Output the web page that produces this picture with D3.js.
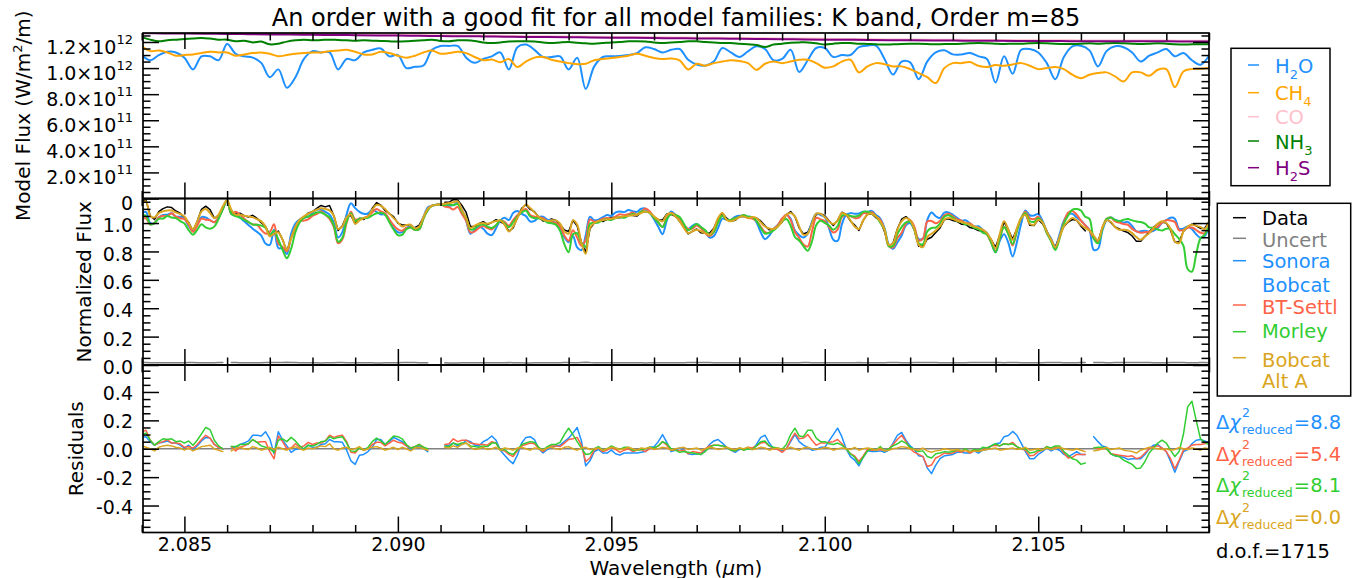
<!DOCTYPE html>
<html>
<head>
<meta charset="utf-8">
<script src="https://cdn.jsdelivr.net/npm/d3@7"></script>
<style>
  html, body { margin: 0; padding: 0; background: #fff; }
  svg { display: block; }
</style>
</head>
<body>
<svg id="chart" width="1367" height="578"></svg>
<script>
// ---------- wavelength sampling (micron) ----------
const fineStart = 2.0840, fineStep = 0.0001, fineCount = 251;     // observed spectrum grid
const modelStart = 2.0840, modelStep = 0.0002, modelCount = 126;  // molecule-only model grid
const smoothStart = 2.0840, smoothStep = 0.0005, smoothCount = 51; // slowly varying models

// ---------- molecule-only models (flux, units of 1e12 W/m^2/m) ----------
const h2oFlux = [
 1.10,1.06,1.10,1.125,1.12,1.08,0.99,1.09,1.09,1.06,
 1.185,1.11,1.09,1.08,1.04,0.93,0.99,0.85,0.93,1.07,
 1.13,1.12,1.12,0.99,1.07,1.06,1.12,1.14,1.15,1.09,
 1.10,1.00,1.01,1.02,1.14,1.17,1.17,1.17,1.08,1.04,
 1.07,1.09,1.12,0.99,1.16,1.18,1.14,1.085,1.085,1.09,
 0.99,1.08,0.84,1.013,1.085,1.09,1.092,1.10,1.115,1.16,
 1.146,1.12,1.14,1.146,1.064,1.028,1.018,1.05,1.154,1.12,
 1.085,1.128,1.167,1.146,1.06,1.07,1.14,0.97,1.06,1.154,
 1.154,1.085,1.10,1.10,1.16,1.172,1.172,1.07,0.95,1.05,
 1.044,0.915,1.05,1.12,1.136,1.105,1.105,1.115,1.09,1.07,
 0.89,1.09,0.956,1.14,1.146,1.12,1.038,0.915,1.085,1.167,
 1.172,1.136,1.013,1.13,1.167,1.16,1.12,1.05,1.095,1.12,
 1.146,1.09,1.115,1.06,1.026,1.095];
const ch4Flux = [
 1.17,1.13,1.135,1.12,1.095,1.10,1.105,1.115,1.125,1.12,
 1.12,1.095,1.105,1.115,1.12,1.11,1.09,1.10,1.11,1.115,
 1.12,1.12,1.13,1.135,1.14,1.125,1.105,1.105,1.125,1.115,
 1.095,1.08,1.095,1.12,1.135,1.11,1.115,1.125,1.115,1.085,
 1.06,1.065,1.045,1.07,1.008,1.05,1.08,1.085,1.064,1.05,
 1.038,1.03,1.033,1.06,1.07,1.077,1.085,1.095,1.11,1.095,
 1.077,1.07,1.074,1.06,0.99,1.033,1.018,1.038,1.05,1.06,
 1.054,1.038,0.987,1.033,1.05,1.038,1.05,1.064,1.064,1.038,
 1.003,1.013,1.05,1.064,0.967,1.013,1.038,1.03,1.013,1.013,
 0.992,0.962,0.93,0.885,1.0,1.038,1.038,1.046,1.018,1.008,
 1.023,1.018,1.028,1.038,1.018,0.992,1.0,1.008,0.992,0.949,
 0.923,0.949,0.962,0.967,0.936,0.897,0.967,0.967,0.941,0.987,
 0.992,0.854,0.974,0.992,0.995,1.0];
const nh3Flux = [
 1.238,1.218,1.205,1.213,1.218,1.223,1.226,1.231,1.226,1.218,
 1.218,1.205,1.21,1.197,1.203,1.182,1.187,1.203,1.213,1.218,
 1.213,1.215,1.218,1.215,1.213,1.21,1.213,1.21,1.208,1.205,
 1.203,1.205,1.21,1.213,1.218,1.208,1.205,1.213,1.213,1.208,
 1.197,1.192,1.197,1.203,1.205,1.205,1.203,1.197,1.192,1.197,
 1.2,1.195,1.19,1.187,1.192,1.197,1.2,1.205,1.205,1.203,
 1.197,1.192,1.197,1.2,1.205,1.205,1.2,1.197,1.192,1.192,
 1.187,1.182,1.177,1.162,1.18,1.187,1.195,1.197,1.197,1.19,
 1.18,1.187,1.192,1.192,1.187,1.185,1.182,1.18,1.182,1.185,
 1.187,1.187,1.185,1.182,1.185,1.185,1.187,1.19,1.192,1.19,
 1.187,1.185,1.187,1.187,1.19,1.192,1.19,1.187,1.185,1.185,
 1.187,1.19,1.187,1.19,1.192,1.19,1.187,1.185,1.187,1.19,
 1.187,1.182,1.18,1.182,1.182,1.182];
const h2sFlux = [
 1.268,1.266,1.265,1.263,1.262,1.260,1.258,1.257,1.255,1.254,
 1.252,1.250,1.249,1.247,1.246,1.244,1.243,1.241,1.239,1.238,
 1.236,1.235,1.233,1.232,1.230,1.229,1.227,1.226,1.224,1.223,
 1.221,1.220,1.218,1.217,1.216,1.214,1.213,1.212,1.211,1.210,
 1.209,1.208,1.207,1.207,1.206,1.206,1.205,1.205,1.205,1.204,
 1.204];
const coFlux = [
 1.274,1.272,1.271,1.269,1.268,1.266,1.264,1.263,1.261,1.260,
 1.258,1.256,1.255,1.253,1.252,1.250,1.249,1.247,1.245,1.244,
 1.242,1.241,1.239,1.238,1.236,1.235,1.233,1.232,1.230,1.229,
 1.227,1.226,1.224,1.223,1.222,1.220,1.219,1.218,1.217,1.216,
 1.215,1.214,1.213,1.213,1.212,1.212,1.211,1.211,1.211,1.210,
 1.210];

// ---------- observed spectrum and model families (normalized) ----------
const dataFlux = [
 1.150,1.163,1.050,1.025,1.080,1.102,1.114,1.109,1.085,1.069,
 1.037,1.005,0.943,1.012,1.097,1.119,1.095,1.035,1.049,1.098,
 null,1.079,1.064,1.069,1.052,1.042,1.055,1.033,1.002,0.976,
 0.916,0.920,0.944,0.882,0.802,0.899,0.991,1.024,1.037,1.071,
 1.080,1.104,1.124,1.114,1.124,1.052,0.948,0.981,1.052,1.054,
 0.995,1.034,1.025,1.047,1.104,1.144,1.127,1.089,1.066,1.045,
 1.000,0.986,0.986,0.973,0.967,0.986,1.042,1.089,null,null,
 null,1.146,1.146,1.166,1.163,1.124,1.075,0.975,0.976,0.995,
 1.010,0.990,1.005,1.024,1.009,0.993,0.941,0.966,1.040,1.104,
 1.129,1.096,1.080,1.042,1.014,1.019,1.029,1.019,0.990,0.951,
 0.940,1.019,0.978,0.864,0.794,0.960,1.000,1.019,1.011,1.026,
 1.041,1.040,1.037,1.047,1.062,1.054,1.049,1.076,1.082,1.081,
 1.042,1.024,1.022,1.064,1.061,1.047,1.017,0.975,0.924,0.941,
 0.958,0.931,0.929,0.928,0.963,1.030,1.071,1.034,1.012,1.019,
 1.047,1.047,1.045,1.037,1.035,1.015,0.981,0.952,0.958,0.981,
 1.007,1.059,1.081,1.047,0.966,0.923,0.935,1.000,1.061,1.066,
 1.052,1.017,0.983,1.019,1.076,1.059,1.015,0.986,0.948,1.019,
 1.064,1.066,1.037,1.017,0.938,0.837,0.859,0.958,1.027,1.045,
 1.019,0.948,0.837,0.836,0.886,0.900,0.933,0.966,1.024,1.030,
 1.018,1.011,0.992,0.990,0.968,0.961,0.947,0.943,0.924,0.882,
 0.829,0.915,1.007,0.953,0.887,0.960,1.035,1.069,0.985,0.983,
 1.024,0.995,0.946,0.877,0.831,0.911,0.976,1.007,1.025,1.019,
 0.978,0.945,null,0.896,0.868,0.965,1.029,1.004,0.972,0.958,
 0.943,0.933,0.909,0.871,0.872,0.906,0.939,0.970,0.995,1.007,
 1.000,0.948,0.866,0.869,0.941,0.971,0.993,0.981,0.962,0.963,
 1.012];
const uncertFlux = [
 .018,.017,.016,.016,.015,.016,.016,.015,.015,.016,
 .016,.017,.017,.016,.015,.015,.016,.016,.017,.018,
 null,.018,.017,.016,.016,.015,.015,.016,.016,.017,
 .018,.018,.017,.018,.019,.018,.017,.016,.016,.015,
 .015,.015,.014,.015,.015,.016,.017,.017,.016,.016,
 .016,.015,.015,.015,.015,.014,.014,.015,.015,.016,
 .016,.017,.017,.017,.017,.016,.015,.015,null,null,
 null,.015,.014,.014,.014,.015,.015,.016,.016,.016,
 .016,.016,.016,.016,.016,.016,.017,.016,.015,.015,
 .014,.014,.015,.015,.015,.016,.016,.016,.016,.017,
 .017,.016,.016,.018,.019,.017,.016,.016,.016,.015,
 .015,.015,.015,.015,.015,.015,.015,.015,.014,.015,
 .015,.016,.016,.015,.015,.015,.016,.016,.017,.017,
 .017,.017,.017,.017,.016,.015,.015,.015,.016,.015,
 .015,.015,.015,.015,.015,.016,.016,.016,.016,.016,
 .016,.015,.015,.015,.016,.017,.017,.016,.015,.015,
 .015,.016,.016,.016,.015,.015,.016,.016,.017,.016,
 .015,.015,.015,.016,.016,.018,.018,.017,.016,.016,
 .016,.017,.018,.018,.017,.017,.017,.016,.016,.016,
 .016,.016,.016,.016,.017,.017,.017,.017,.017,.018,
 .018,.017,.016,.017,.018,.017,.016,.016,.016,.016,
 .016,.016,.017,.017,.018,.017,.016,.016,.016,.016,
 .017,.017,null,.018,.018,.017,.016,.016,.017,.017,
 .017,.017,.017,.018,.018,.017,.017,.016,.016,.016,
 .016,.017,.018,.018,.017,.016,.016,.016,.017,.017,
 .016];
const sonoraFlux = [
 1.07,1.078,1.0,1.0,1.04,1.057,1.059,1.069,1.045,1.044,
 1.032,0.98,0.948,0.992,1.042,1.039,1.02,1.005,1.039,1.098,
 1.16,1.064,1.059,1.039,1.012,0.987,0.96,0.938,0.912,0.856,
 0.846,0.955,0.824,0.822,0.782,0.924,0.996,1.024,1.037,1.046,
 1.07,1.094,1.094,1.079,1.059,1.002,0.898,0.936,1.062,1.139,
 1.105,1.079,1.065,1.067,1.094,1.079,1.062,1.059,1.016,0.965,
 0.935,0.936,0.966,0.978,0.962,0.966,1.042,1.109,1.122,1.129,
 1.132,1.126,1.121,1.126,1.143,1.094,1.015,0.925,0.951,0.975,
 0.96,0.925,0.915,0.964,1.019,1.038,1.021,1.071,1.085,1.064,
 1.049,1.011,1.015,1.042,1.044,1.024,1.019,0.999,0.965,0.901,
 0.865,0.909,0.828,0.809,0.914,1.045,1.02,1.024,1.041,1.056,
 1.051,1.075,1.082,1.077,1.092,1.084,1.079,1.101,1.102,1.071,
 1.027,0.974,0.922,1.019,1.081,1.057,1.012,0.985,0.959,0.981,
 0.993,0.971,0.939,0.898,0.908,0.965,1.031,1.024,1.022,1.044,
 1.052,1.047,1.045,1.042,1.005,0.935,0.886,0.912,0.958,0.986,
 1.022,1.059,1.031,0.947,0.916,0.898,0.925,1.01,1.066,1.056,
 1.042,0.962,0.883,0.874,0.991,1.059,1.07,1.066,1.068,1.079,
 1.079,1.086,1.057,1.032,0.963,0.847,0.819,0.863,0.912,0.985,
 0.999,0.953,0.887,0.891,1.021,1.075,1.048,1.036,1.074,1.075,
 1.058,1.036,1.017,1.02,0.998,0.976,0.977,0.953,0.929,0.862,
 0.794,0.875,0.922,0.86,0.765,0.865,0.995,1.089,1.055,1.053,
 1.064,1.015,0.941,0.892,0.831,0.921,1.016,1.062,1.065,1.039,
 1.018,0.985,0.95,0.811,0.818,0.945,1.019,1.039,1.022,1.013,
 1.003,1.008,0.979,0.941,0.942,0.946,0.939,0.945,0.965,1.002,
 1.02,1.038,1.031,0.959,0.961,0.976,0.958,0.921,0.897,0.908,
 0.972];
const settlFlux = [
 1.03,1.033,0.99,1.0,1.04,1.052,1.049,1.069,1.045,1.034,
 1.027,0.99,0.938,0.982,1.032,1.024,1.02,1.005,1.039,1.098,
 1.16,1.064,1.079,1.059,1.032,1.007,0.99,0.988,0.952,0.926,
 0.936,0.991,0.854,0.832,0.802,0.894,0.956,1.014,1.017,1.026,
 1.05,1.064,1.084,1.059,1.029,0.972,0.858,0.886,1.002,1.079,
 1.025,1.029,1.035,1.047,1.074,1.099,1.082,1.069,1.026,0.985,
 0.955,0.946,0.966,0.968,0.952,0.956,1.032,1.099,1.122,1.129,
 1.132,1.116,1.111,1.096,1.113,1.064,1.015,0.935,0.941,0.965,
 0.98,0.965,0.955,0.984,1.019,1.008,0.981,1.021,1.055,1.084,
 1.099,1.056,1.045,1.042,1.034,1.014,1.009,0.999,0.975,0.911,
 0.875,0.949,0.898,0.839,0.884,1.025,1.01,1.014,1.031,1.036,
 1.031,1.045,1.062,1.057,1.062,1.074,1.059,1.081,1.102,1.081,
 1.037,1.004,0.972,1.039,1.071,1.057,1.032,0.985,0.959,0.961,
 0.983,0.961,0.929,0.908,0.938,1.005,1.051,1.024,1.022,1.034,
 1.042,1.057,1.035,1.032,1.015,0.975,0.936,0.932,0.958,0.986,
 1.032,1.059,1.021,0.937,0.896,0.848,0.835,0.94,1.036,1.026,
 1.012,0.972,0.933,0.954,1.041,1.059,1.05,1.036,1.038,1.069,
 1.069,1.076,1.047,1.022,0.953,0.837,0.829,0.893,0.932,0.995,
 1.019,0.973,0.877,0.891,1.011,1.015,0.998,1.016,1.054,1.065,
 1.048,1.026,1.017,1.0,0.998,0.976,0.957,0.953,0.919,0.862,
 0.804,0.895,0.972,0.923,0.842,0.945,1.035,1.079,1.035,1.028,
 1.044,1.005,0.931,0.882,0.821,0.901,1.006,1.072,1.085,1.059,
 1.018,0.985,0.95,0.891,0.868,0.965,1.029,1.039,1.012,1.003,
 0.993,0.988,0.959,0.941,0.932,0.936,0.939,0.955,0.975,1.002,
 1.02,1.018,1.008,0.949,0.951,0.966,0.968,0.951,0.932,0.928,
 0.972];
const morleyFlux = [
 1.05,1.053,0.99,1.0,1.03,1.032,1.049,1.039,1.035,1.014,
 0.997,0.95,0.918,0.952,0.992,0.969,0.96,0.975,1.029,1.098,
 1.16,1.064,1.049,1.039,1.022,1.007,0.99,0.988,0.982,0.966,
 0.916,0.945,0.884,0.812,0.752,0.819,0.936,1.004,1.037,1.046,
 1.06,1.074,1.074,1.059,1.039,0.982,0.868,0.896,1.012,1.069,
 1.015,1.029,1.035,1.037,1.054,1.069,1.072,1.059,1.006,0.955,
 0.915,0.916,0.956,0.968,0.952,0.956,1.032,1.089,1.122,1.129,
 1.132,1.126,1.131,1.126,1.133,1.084,1.035,0.955,0.961,0.985,
 0.99,0.975,0.965,0.984,1.019,0.998,0.971,1.006,1.045,1.074,
 1.089,1.046,1.035,1.032,1.024,1.004,0.999,0.989,0.945,0.851,
 0.795,0.919,0.928,0.859,0.834,0.995,1.0,1.004,1.021,1.026,
 1.021,1.035,1.042,1.037,1.052,1.064,1.059,1.081,1.082,1.071,
 1.037,1.004,0.972,1.029,1.061,1.057,1.042,0.995,0.949,0.971,
 0.993,0.971,0.949,0.918,0.938,1.005,1.051,1.024,1.022,1.034,
 1.042,1.057,1.045,1.042,1.015,0.965,0.926,0.932,0.948,0.976,
 1.012,1.029,0.981,0.902,0.876,0.838,0.805,0.87,0.986,1.016,
 1.002,0.982,0.953,0.979,1.051,1.059,1.05,1.046,1.053,1.079,
 1.079,1.066,1.047,1.002,0.953,0.837,0.839,0.923,0.972,1.005,
 1.009,0.953,0.857,0.851,0.941,0.965,0.968,0.996,1.044,1.055,
 1.038,1.016,1.007,0.99,0.988,0.966,0.957,0.933,0.919,0.862,
 0.794,0.895,0.972,0.923,0.852,0.945,1.035,1.069,1.015,1.008,
 1.034,1.005,0.931,0.872,0.811,0.891,0.996,1.052,1.095,1.099,
 1.088,1.045,1.03,0.891,0.858,0.955,1.029,1.039,1.022,1.013,
 1.023,1.028,1.019,1.011,1.007,0.996,0.969,0.965,0.955,0.947,
 0.96,0.958,0.921,0.889,0.841,0.676,0.658,0.781,0.892,0.918,
 0.982];
const altAFlux = [
 1.13,1.153,1.05,1.04,1.07,1.082,1.089,1.089,1.075,1.064,
 1.047,1.0,0.958,1.012,1.082,1.099,1.07,1.035,1.059,1.118,
 1.16,1.094,1.059,1.059,1.052,1.047,1.04,1.028,1.012,0.976,
 0.906,0.925,0.934,0.882,0.812,0.894,0.976,1.024,1.047,1.066,
 1.08,1.094,1.104,1.099,1.089,1.052,0.958,0.976,1.042,1.059,
 0.995,1.019,1.035,1.047,1.094,1.129,1.122,1.099,1.066,1.035,
 1.005,0.976,0.986,0.988,0.962,0.976,1.042,1.099,1.122,1.129,
 1.132,1.136,1.141,1.146,1.153,1.094,1.035,0.965,0.981,0.995,
 1.0,0.995,1.005,1.014,1.019,0.988,0.941,0.976,1.035,1.094,
 1.129,1.106,1.075,1.042,1.024,1.014,1.019,1.019,0.995,0.941,
 0.925,1.019,0.988,0.859,0.784,0.965,1.0,1.014,1.021,1.026,
 1.031,1.035,1.042,1.047,1.052,1.054,1.059,1.071,1.082,1.071,
 1.047,1.024,1.012,1.059,1.071,1.047,1.012,0.965,0.929,0.941,
 0.953,0.941,0.929,0.918,0.958,1.035,1.071,1.024,1.012,1.024,
 1.042,1.047,1.035,1.042,1.035,1.005,0.976,0.962,0.958,0.976,
 1.012,1.059,1.071,1.047,0.976,0.918,0.925,1.0,1.066,1.066,
 1.042,1.012,0.993,1.019,1.071,1.059,1.02,0.976,0.958,1.019,
 1.059,1.066,1.047,1.012,0.953,0.847,0.859,0.953,1.012,1.035,
 1.019,0.953,0.847,0.831,0.901,0.925,0.948,0.976,1.024,1.035,
 1.028,1.016,1.007,1.0,0.988,0.976,0.967,0.953,0.929,0.882,
 0.824,0.925,1.012,0.953,0.882,0.965,1.035,1.059,0.995,0.988,
 1.024,1.005,0.941,0.882,0.831,0.901,0.976,1.012,1.035,1.019,
 0.988,0.965,0.948,0.911,0.878,0.965,1.019,1.009,0.972,0.953,
 0.953,0.948,0.929,0.901,0.882,0.906,0.929,0.965,0.995,1.012,
 1.0,0.958,0.871,0.859,0.941,0.976,0.988,0.981,0.972,0.958,
 1.012];

// ---------- fit statistics ----------
const chiLabels = ["8.8", "5.4", "8.1", "0.0"];
const dofLabel = "1715";

// ---------- axis ticks ----------
const xMajor = [2.085, 2.090, 2.095, 2.100, 2.105];
const topMajor = [0, 0.2, 0.4, 0.6, 0.8, 1.0, 1.2];       // x 1e12
const midMajor = [0, 0.2, 0.4, 0.6, 0.8, 1.0];
const resMajor = [-0.4, -0.2, 0, 0.2, 0.4];

// ---------- colours ----------
const C = {
  h2o: "#1e90ff", ch4: "#ffa500", co: "#ffc0cb", nh3: "#008000", h2s: "#800080",
  data: "#000000", uncert: "#808080", sonora: "#1e90ff", settl: "#ff6347",
  morley: "#32cd32", altA: "#daa520"
};

// ---------- layout ----------
const FONT = "'DejaVu Sans', 'Liberation Sans', sans-serif";
const X0 = 143, X1 = 1209;
const P = {
  top: { y0: 33,    y1: 198.5 },
  mid: { y0: 198.5, y1: 365 },
  res: { y0: 365,   y1: 532.5 }
};

const svg = d3.select("#chart");

const x = d3.scaleLinear().domain([2.08403, 2.10900]).range([X0, X1]);
const yTop = d3.scaleLinear().domain([0, 1.269]).range([P.top.y1, P.top.y0]);
const yMid = d3.scaleLinear().domain([0, 1.173]).range([P.mid.y1, P.mid.y0]);
const yRes = d3.scaleLinear().domain([-0.59, 0.59]).range([P.res.y1, P.res.y0]);

const wlFine = d3.range(fineCount).map(i => fineStart + i * fineStep);
const wlModel = d3.range(modelCount).map(i => modelStart + i * modelStep);
const wlSmooth = d3.range(smoothCount).map(i => smoothStart + i * smoothStep);

const near = (v, step) => Math.abs(v / step - Math.round(v / step)) < 1e-6;
const xMinor = d3.range(2084, 2110).map(v => v / 1000).filter(v => !xMajor.some(m => Math.abs(m - v) < 1e-9));
const topMinor = d3.range(0, 26).map(i => i * 0.05).filter(v => v <= 1.269 && !near(v, 0.2));
const midMinor = d3.range(0, 24).map(i => i * 0.05).filter(v => v <= 1.173 && !near(v, 0.2));
const resMinor = d3.range(-11, 12).map(i => i * 0.05).filter(v => !near(v, 0.2));

// ---------- clip regions ----------
const defs = svg.append("defs");
Object.entries(P).forEach(([k, p]) => {
  defs.append("clipPath").attr("id", "clip-" + k)
    .append("rect").attr("x", X0).attr("y", p.y0).attr("width", X1 - X0).attr("height", p.y1 - p.y0);
});

function series(wl, vals) { return wl.map((w, i) => [w, vals[i]]); }

function drawLine(panel, yScale, pts, color, width, curve) {
  const line = d3.line()
    .defined(d => d[1] !== null && d[1] !== undefined)
    .x(d => x(d[0])).y(d => yScale(d[1]))
    .curve(curve || d3.curveLinear);
  svg.append("path")
    .attr("clip-path", `url(#clip-${panel})`)
    .attr("d", line(pts))
    .attr("fill", "none")
    .attr("stroke", color)
    .attr("stroke-width", width)
    .attr("stroke-linejoin", "round")
    .attr("stroke-linecap", "round");
}

// ---------- top panel: molecule models ----------
const smoothCurve = d3.curveCatmullRom.alpha(0.5);
drawLine("top", yTop, series(wlModel, h2oFlux), C.h2o, 2, smoothCurve);
drawLine("top", yTop, series(wlModel, ch4Flux), C.ch4, 2, smoothCurve);
drawLine("top", yTop, series(wlSmooth, coFlux), C.co, 2, smoothCurve);
drawLine("top", yTop, series(wlModel, nh3Flux), C.nh3, 2, smoothCurve);
drawLine("top", yTop, series(wlSmooth, h2sFlux), C.h2s, 2, smoothCurve);

// ---------- middle panel: data and model families ----------
drawLine("mid", yMid, series(wlFine, uncertFlux), C.uncert, 1.5);
drawLine("mid", yMid, series(wlFine, dataFlux), C.data, 1.5);
const families = [
  { vals: sonoraFlux, color: C.sonora },
  { vals: settlFlux,  color: C.settl },
  { vals: morleyFlux, color: C.morley },
  { vals: altAFlux,   color: C.altA }
];
families.forEach(f => drawLine("mid", yMid, series(wlFine, f.vals), f.color, 2, smoothCurve));

// ---------- residual panel: data minus model ----------
svg.append("line")
  .attr("x1", X0).attr("x2", X1).attr("y1", yRes(0)).attr("y2", yRes(0))
  .attr("stroke", C.uncert).attr("stroke-width", 1.5);
families.forEach(f => {
  const resid = dataFlux.map((d, i) => d === null ? null : d - f.vals[i]);
  drawLine("res", yRes, series(wlFine, resid), f.color, 1.5);
});

// ---------- axes and frames ----------
function drawAxes(p, y, yMajor, yMinor, opts) {
  const g = svg.append("g");
  const add = (gen, tr) => g.append("g").attr("transform", tr).call(gen)
    .call(s => s.select(".domain").remove());
  const blank = () => "";
  add(d3.axisBottom(x).tickValues(xMajor).tickSizeInner(-16).tickSizeOuter(0).tickPadding(5)
      .tickFormat(opts.xLabels ? d3.format(".3f") : blank), `translate(0,${p.y1})`);
  add(d3.axisBottom(x).tickValues(xMinor).tickSizeInner(-7.5).tickSizeOuter(0).tickFormat(blank), `translate(0,${p.y1})`);
  add(d3.axisTop(x).tickValues(xMajor).tickSizeInner(-16).tickSizeOuter(0).tickFormat(blank), `translate(0,${p.y0})`);
  add(d3.axisTop(x).tickValues(xMinor).tickSizeInner(-7.5).tickSizeOuter(0).tickFormat(blank), `translate(0,${p.y0})`);
  const left = add(d3.axisLeft(y).tickValues(yMajor).tickSizeInner(-16).tickSizeOuter(0).tickPadding(10)
      .tickFormat(opts.yFormat), `translate(${X0},0)`);
  add(d3.axisLeft(y).tickValues(yMinor).tickSizeInner(-7.5).tickSizeOuter(0).tickFormat(blank), `translate(${X0},0)`);
  add(d3.axisRight(y).tickValues(yMajor).tickSizeInner(-16).tickSizeOuter(0).tickFormat(blank), `translate(${X1},0)`);
  add(d3.axisRight(y).tickValues(yMinor).tickSizeInner(-7.5).tickSizeOuter(0).tickFormat(blank), `translate(${X1},0)`);
  g.selectAll("g").attr("font-size", 19).attr("font-family", FONT);
  g.selectAll(".tick text").attr("fill", "#000");
  g.selectAll(".tick line").attr("stroke", "#000").attr("stroke-width", 1.5);
  left.selectAll(".tick text").attr("dy", opts.dy);
  g.append("rect").attr("x", X0).attr("y", p.y0).attr("width", X1 - X0).attr("height", p.y1 - p.y0)
    .attr("fill", "none").attr("stroke", "#000").attr("stroke-width", 1.7);
  return left;
}

const topLeft = drawAxes(P.top, yTop, topMajor, topMinor, { yFormat: d => "", dy: "0.6em" });
// scientific labels with superscript exponents
topLeft.selectAll(".tick text").each(function(d) {
  const t = d3.select(this).text(null);
  if (d === 0) { t.text("0"); return; }
  const v = d * 1e12;
  const e = Math.floor(Math.log10(v) + 1e-9);
  const m = v / Math.pow(10, e);
  t.append("tspan").text(m.toFixed(1) + "\u00d710");
  t.append("tspan").attr("font-size", 13).attr("dy", -10).text(String(e));
});
drawAxes(P.mid, yMid, midMajor, midMinor, { yFormat: d3.format(".1f"), dy: "0.45em" });
drawAxes(P.res, yRes, resMajor, resMinor, { yFormat: d => d3.format(".1f")(d).replace("\u2212", "-"), dy: "0.4em", xLabels: true });

// ---------- titles ----------
svg.append("text").attr("x", (X0 + X1) / 2).attr("y", 26).attr("text-anchor", "middle")
  .attr("font-family", FONT).attr("font-size", 24).attr("fill", "#000")
  .text("An order with a good fit for all model families: K band, Order m=85");

const yTitle = (cx, cy, build) => {
  const t = svg.append("text").attr("transform", `translate(${cx},${cy}) rotate(-90)`)
    .attr("text-anchor", "middle").attr("font-family", FONT).attr("font-size", 20).attr("fill", "#000");
  build(t);
};
yTitle(30, (P.top.y0 + P.top.y1) / 2, t => {
  t.append("tspan").text("Model Flux (W/m");
  t.append("tspan").attr("font-size", 13).attr("dy", -8).text("2");
  t.append("tspan").attr("dy", 8).text("/m)");
});
yTitle(90.5, (P.mid.y0 + P.mid.y1) / 2, t => t.text("Normalized Flux"));
yTitle(83, (P.res.y0 + P.res.y1) / 2, t => t.text("Residuals"));

const xt = svg.append("text").attr("x", (X0 + X1) / 2).attr("y", 574.5).attr("text-anchor", "middle")
  .attr("font-family", FONT).attr("font-size", 20).attr("fill", "#000");
xt.append("tspan").text("Wavelength (");
xt.append("tspan").attr("font-style", "italic").text("\u03bc");
xt.append("tspan").text("m)");

// ---------- molecule legend ----------
const molLegend = [
  { main: "H", sub: "2", tail: "O", color: C.h2o, y: 65,    base: 73.3 },
  { main: "CH", sub: "4", tail: "", color: C.ch4, y: 92.7,  base: 100 },
  { main: "CO", sub: "",  tail: "", color: C.co,  y: 116.7, base: 124 },
  { main: "NH", sub: "3", tail: "", color: C.nh3, y: 141,   base: 149.3 },
  { main: "H", sub: "2", tail: "S", color: C.h2s, y: 167.7, base: 175 }
];
svg.append("rect").attr("x", 1231).attr("y", 48.3).attr("width", 99).attr("height", 137.4)
  .attr("fill", "#fff").attr("stroke", "#000").attr("stroke-width", 1.5);
molLegend.forEach(m => {
  svg.append("line").attr("x1", 1248).attr("x2", 1259).attr("y1", m.y).attr("y2", m.y)
    .attr("stroke", m.color).attr("stroke-width", 1.5);
  const t = svg.append("text").attr("x", 1275).attr("y", m.base)
    .attr("font-family", FONT).attr("font-size", 19.5).attr("fill", m.color);
  t.append("tspan").text(m.main);
  if (m.sub) {
    t.append("tspan").attr("font-size", 13).attr("dy", 6).text(m.sub);
    if (m.tail) t.append("tspan").attr("dy", -6).text(m.tail);
  }
});

// ---------- spectrum legend ----------
svg.append("rect").attr("x", 1217.3).attr("y", 203.3).attr("width", 133.4).attr("height", 192.7)
  .attr("fill", "#fff").attr("stroke", "#000").attr("stroke-width", 1.5);
const specLegend = [
  { label: "Data",     color: C.data,   line: 217.7, base: 225 },
  { label: "Uncert",   color: C.uncert, line: 238.3, base: 246.7 },
  { label: "Sonora",   color: C.sonora, line: 260.7, base: 268.3 },
  { label: "Bobcat",   color: C.sonora, line: null,  base: 291.7 },
  { label: "BT-Settl", color: C.settl,  line: 305,   base: 314.3 },
  { label: "Morley",   color: C.morley, line: 331.7, base: 338.3 },
  { label: "Bobcat",   color: C.altA,   line: 357.7, base: 366.7 },
  { label: "Alt A",    color: C.altA,   line: null,  base: 388.3 }
];
specLegend.forEach(s => {
  if (s.line !== null) {
    svg.append("line").attr("x1", 1233).attr("x2", 1246).attr("y1", s.line).attr("y2", s.line)
      .attr("stroke", s.color).attr("stroke-width", 1.5);
  }
  svg.append("text").attr("x", 1262).attr("y", s.base)
    .attr("font-family", FONT).attr("font-size", 19.5).attr("fill", s.color).text(s.label);
});

// ---------- reduced chi-square differences ----------
const chiColors = [C.sonora, C.settl, C.morley, C.altA];
const chiBases = [429, 460.5, 492, 523.5];
chiLabels.forEach((val, i) => {
  const g = svg.append("g").attr("font-family", FONT).attr("fill", chiColors[i]);
  const head = g.append("text").attr("x", 1216).attr("y", chiBases[i]).attr("font-size", 19.5);
  head.append("tspan").text("\u0394");
  head.append("tspan").attr("font-style", "italic").text("\u03c7");
  const xe = 1216 + head.node().getComputedTextLength() + 1;
  g.append("text").attr("x", xe).attr("y", chiBases[i] - 12).attr("font-size", 12.5).text("2");
  const sub = g.append("text").attr("x", xe).attr("y", chiBases[i] + 5).attr("font-size", 12.5).text("reduced");
  const xs = xe + sub.node().getComputedTextLength() + 1;
  g.append("text").attr("x", xs).attr("y", chiBases[i]).attr("font-size", 19.5).text("=" + val);
});
svg.append("text").attr("x", 1216).attr("y", 558).attr("font-family", FONT).attr("font-size", 19.5)
  .attr("fill", "#000").text("d.o.f.=" + dofLabel);
</script>
</body>
</html>
